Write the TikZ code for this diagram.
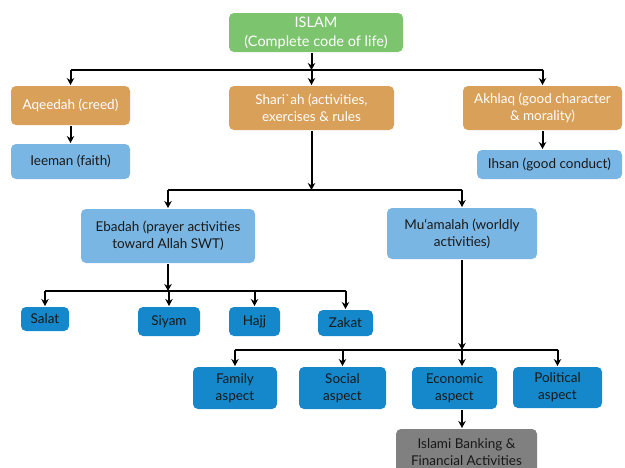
\documentclass[tikz,border=0pt]{standalone}
\usepackage{fontspec}
\setmainfont{Lato}
\usetikzlibrary{arrows.meta}

\definecolor{topgreen}{RGB}{125,196,111}
\definecolor{pillarorange}{RGB}{217,160,90}
\definecolor{paleblue}{RGB}{122,182,227}
\definecolor{deepblue}{RGB}{20,136,202}
\definecolor{bankgrey}{RGB}{128,128,128}

\begin{document}
\begin{tikzpicture}[x=1pt, y=-1pt, line width=2pt,
  box/.style={rounded corners=5pt, inner sep=0pt, align=center,
    font=\fontsize{13.5}{17}\selectfont},
  head/.style={box, fill=topgreen, text=white, font=\fontsize{14.5}{19}\selectfont},
  pillar/.style={box, fill=pillarorange, text=white},
  pale/.style={box, fill=paleblue, text=black!90},
  deep/.style={box, fill=deepblue, text=black!90},
  grey/.style={box, fill=bankgrey, text=black!90},
  link/.style={-{Stealth[length=7pt,width=7.5pt]}}]
\useasboundingbox (0,0) rectangle (625,467);

% root and the three pillars
\node[head, minimum width=174, minimum height=39] (islam) at (316,32.5)
  {ISLAM\\(Complete code of life)};
\node[pillar, minimum width=119, minimum height=39] (aqeedah) at (70.5,105.5)
  {Aqeedah (creed)};
\node[pillar, minimum width=165, minimum height=44] (shariah) at (311.5,108)
  {Shari\textasciigrave ah (activities,\\exercises \& rules};
\node[pillar, minimum width=159, minimum height=44] (akhlaq) at (542.5,108)
  {Akhlaq (good character\\\& morality)};
\node[pale, minimum width=119, minimum height=35] (ieeman) at (70.5,161.5)
  {Ieeman (faith)};
\node[pale, minimum width=145, minimum height=29] (ihsan) at (549.5,164.5)
  {Ihsan (good conduct)};

% two kinds of shari`ah
\node[pale, minimum width=174, minimum height=54] (ebadah) at (168,236)
  {Ebadah (prayer activities\\toward Allah SWT)};
\node[pale, minimum width=150, minimum height=51] (muamalah) at (462,233.5)
  {Mu‘amalah (worldly\\activities)};

% ebadah
\node[deep, minimum width=48, minimum height=24] (salat) at (45,319) {Salat};
\node[deep, minimum width=62, minimum height=29] (siyam) at (169,321.5) {Siyam};
\node[deep, minimum width=51, minimum height=29] (hajj) at (254.5,321.5) {Hajj};
\node[deep, minimum width=55, minimum height=26] (zakat) at (345.5,323) {Zakat};

% mu`amalah
\node[deep, minimum width=84, minimum height=42] (family) at (235,388) {Family\\aspect};
\node[deep, minimum width=87, minimum height=42] (social) at (342.5,388) {Social\\aspect};
\node[deep, minimum width=85, minimum height=42] (economic) at (454.5,388) {Economic\\aspect};
\node[deep, minimum width=89, minimum height=41] (political) at (557.5,387.5) {Political\\aspect};
\node[grey, minimum width=141, minimum height=46] (banking) at (466.5,452)
  {Islami Banking \&\\Financial Activities};

% junction rows
\coordinate (j1) at (0,70);
\coordinate (j2) at (0,190);
\coordinate (j3) at (0,291);
\coordinate (j4) at (0,350);

\draw[link] (islam.south -| shariah.north) -- (j1 -| shariah.north);
\draw (j1 -| aqeedah.north) -- (j1 -| akhlaq.north);
\foreach \n in {aqeedah,shariah,akhlaq}
  \draw[link] (j1 -| \n.north) -- (\n.north);
\draw[link] (aqeedah) -- (ieeman);
\draw[link] (akhlaq.south) -- (akhlaq.south |- ihsan.north);

\draw[link] (shariah.south) -- (j2 -| shariah.south);
\draw (j2 -| ebadah.north) -- (j2 -| muamalah.north);
\foreach \n in {ebadah,muamalah}
  \draw[link] (j2 -| \n.north) -- (\n.north);

\draw[link] (ebadah.south) -- (j3 -| ebadah.south);
\draw (j3 -| salat.north) -- (j3 -| zakat.north);
\foreach \n in {salat,siyam,hajj,zakat}
  \draw[link] (j3 -| \n.north) -- (\n.north);

\draw[link] (muamalah.south) -- (j4 -| muamalah.south);
\draw (j4 -| family.north) -- (j4 -| political.north);
\foreach \n in {family,social,political}
  \draw[link] (j4 -| \n.north) -- (\n.north);
\draw[link] (j4 -| muamalah.south) -- (economic.north -| muamalah.south);
\draw[link] (economic.south -| muamalah.south) -- (banking.north -| muamalah.south);
\end{tikzpicture}
\end{document}
